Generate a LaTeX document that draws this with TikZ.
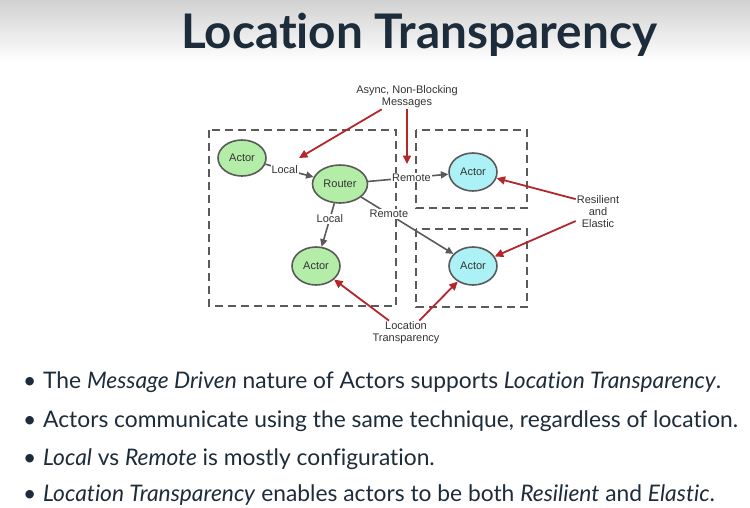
\documentclass[tikz,border=0pt]{standalone}
\usepackage{fontspec}
\setmainfont{Lato}[Ligatures=CommonOff]
\newfontfamily\diagfont{Liberation Sans}
\usetikzlibrary{shapes.geometric,arrows.meta}
\definecolor{actorgreen}{HTML}{B4EDA8}
\definecolor{actorcyan}{HTML}{ABF1F6}
\definecolor{linegray}{HTML}{5A5A5A}
\definecolor{notered}{HTML}{B3262A}
\definecolor{slatetext}{HTML}{1D2C3A}

\begin{document}
\begin{tikzpicture}[x=1pt,y=-1pt,
  actor/.style={draw=linegray, line width=1.6pt, ellipse, minimum width=48pt, minimum height=38pt, inner sep=0pt, font=\diagfont\fontsize{11}{12}\selectfont, text=black!80},
  groupbox/.style={draw=linegray, line width=2.2pt, dash pattern=on 8pt off 5pt},
  msg/.style={draw=linegray, line width=1.6pt, -{Triangle[length=7.5pt,width=7pt]}},
  note/.style={draw=notered, line width=1.8pt, -{Triangle[length=8.5pt,width=8pt]}},
  lbl/.style={fill=white, inner sep=1pt, font=\diagfont\fontsize{11}{12}\selectfont, text=black!80},
  caption/.style={align=center, inner sep=1pt, font=\diagfont\fontsize{11}{12}\selectfont, text=black!80},
  bullet/.style={anchor=base west, inner sep=0pt, text=slatetext, font=\fontsize{22.8}{26}\selectfont}]
  \useasboundingbox (0,0) rectangle (750,507);
  \shade[top color=black!18, bottom color=white] (0,0) rectangle (750,62);

  % title
  \node (title) [anchor=base west, inner sep=0pt, text=slatetext, font=\bfseries\fontsize{47.7}{52}\selectfont] at (181,48) {Location Transparency};

  % dashed groups
  \draw[groupbox] (209,130) rectangle (396,306);
  \draw[groupbox] (416,130) rectangle (527,208);
  \draw[groupbox] (416,229) rectangle (527,307);

  % actors
  \node (actor1) [actor, fill=actorgreen, minimum height=36pt] at (242,158) {Actor};
  \node (router) [actor, fill=actorgreen, minimum width=55pt] at (340,184) {Router};
  \node (actor2) [actor, fill=actorgreen] at (316,266) {Actor};
  \node (actor3) [actor, fill=actorcyan] at (473,172) {Actor};
  \node (actor4) [actor, fill=actorcyan] at (473,266) {Actor};

  % messages
  \draw[msg] (actor1) -- node[lbl, pos=0.4] {Local} (router);
  \draw[msg] (router) -- node[lbl, pos=0.54] {Remote} (actor3);
  \draw[msg] (router) -- node[lbl, pos=0.35] {Local} (actor2);
  \draw[msg] (router) -- node[lbl, pos=0.3] {Remote} (actor4);

  % notes
  \node (async) [caption] at (407,97) {Async, Non-Blocking\\Messages};
  \node (resil) [caption] at (598,212) {Resilient\\and\\Elastic};
  \node (loc) [caption] at (406,333) {Location\\Transparency};
  \coordinate (localmsg) at (299,158);
  \coordinate (remotemsg) at (407,164);
  \draw[note] (async.206) -- (localmsg);
  \draw[note] (async.south) -- (remotemsg);
  \draw[note] (resil.150) -- (actor3);
  \draw[note] (resil.202) -- (actor4);
  \draw[note] (loc.144) -- (actor2);
  \draw[note] (loc.43) -- (actor4);

  % bullets
  \node (point1) [bullet] at (23,388) {\makebox[20pt][l]{\textbullet}The \textit{Message Driven} nature of Actors supports \textit{Location Transparency}.};
  \node (point2) [bullet] at (23,427) {\makebox[20pt][l]{\textbullet}Actors communicate using the same technique, regardless of location.};
  \node (point3) [bullet] at (23,465) {\makebox[20pt][l]{\textbullet}\textit{Local} vs \textit{Remote} is mostly configuration.};
  \node (point4) [bullet] at (23,501) {\makebox[20pt][l]{\textbullet}\textit{Location Transparency} enables actors to be both \textit{Resilient} and \textit{Elastic}.};
\end{tikzpicture}
\end{document}
